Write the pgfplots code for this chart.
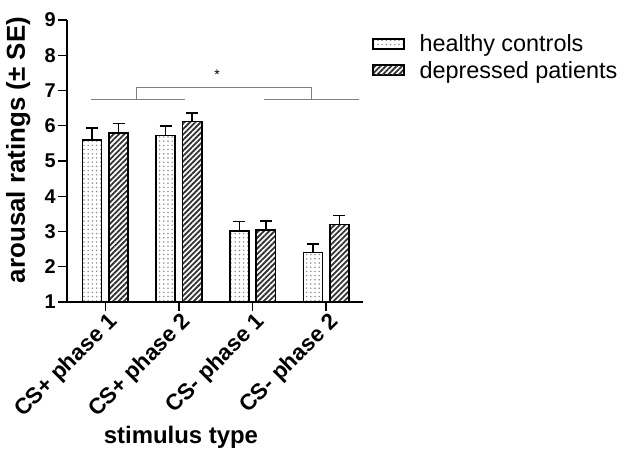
\documentclass[border=0pt]{standalone}
\usepackage{pgfplots}
\pgfplotsset{compat=1.18}
\usepackage{fontspec}
\setmainfont{Liberation Sans}
\usetikzlibrary{patterns.meta}
\begin{document}
\begin{tikzpicture}[x=1bp,y=1bp]
\path[use as bounding box] (0,0) rectangle (626,452);
\begin{axis}[
  at={(67bp,150bp)}, anchor=south west,
  scale only axis, width=296bp, height=282bp,
  xmin=-0.52, xmax=3.5, ymin=1, ymax=9,
  axis x line*=bottom, axis y line*=left,
  axis line style={line width=1.6bp, black},
  xtick={0,1,2,3},
  xticklabels={CS+ phase 1, CS+ phase 2, CS- phase 1, CS- phase 2},
  ytick={1,2,...,9},
  tick align=outside, major tick length=9bp,
  tick style={line width=1.4bp, black},
  /pgf/number format/assume math mode=true,
  yticklabel style={font=\fontsize{20}{20}\selectfont\bfseries, inner sep=2bp},
  xticklabel style={font=\fontsize{22.5}{22.5}\selectfont\bfseries, rotate=45, anchor=north east, inner sep=1bp, xshift=2bp},
  xlabel={stimulus type}, ylabel={arousal ratings (± SE)},
  label style={font=\fontsize{24}{24}\selectfont\bfseries},
  xlabel style={at={(axis description cs:0.385,-0.479)}, anchor=center},
  ylabel style={at={(axis description cs:-0.165,0.539)}, anchor=center, font=\fontsize{26}{26}\selectfont\bfseries},
  legend style={at={(1.02,0.963)}, anchor=north west, draw=none, fill=none,
    font=\fontsize{23.5}{23.5}\selectfont, row sep=4bp, cells={anchor=west},
    /tikz/every odd column/.append style={column sep=13bp}},
  legend image code/.code={\draw[#1, line width=1.4bp] (0bp,-5bp) rectangle (31bp,5bp);},
]
\addplot[ybar, bar width=0.26, bar shift=-0.18, draw=black, line width=1.6bp,
  preaction={fill=white}, pattern={Dots[distance=4.2bp, radius=0.85bp]}, pattern color=black!45]
coordinates {(0,5.6) (1,5.72) (2,3.02) (3,2.4)};
\addlegendentry{healthy controls}
\addplot[ybar, bar width=0.26, bar shift=0.18, draw=black, line width=1.6bp,
  preaction={fill=white}, pattern={Lines[angle=45, distance=3.8bp, line width=1.8bp]}, pattern color=black!80]
coordinates {(0,5.8) (1,6.12) (2,3.05) (3,3.2)};
\addlegendentry{depressed patients}
\addplot[draw=none, mark=none, forget plot,
  error bars/.cd, y dir=plus, y explicit,
  error bar style={line width=1.6bp, black},
  error mark options={rotate=90, mark size=6bp, line width=1.6bp, black}]
coordinates {(-0.18,5.6) +- (0,0.33) (0.82,5.72) +- (0,0.28) (1.82,3.02) +- (0,0.26) (2.82,2.4) +- (0,0.24)};
\addplot[draw=none, mark=none, forget plot,
  error bars/.cd, y dir=plus, y explicit,
  error bar style={line width=1.6bp, black},
  error mark options={rotate=90, mark size=6bp, line width=1.6bp, black}]
coordinates {(0.18,5.8) +- (0,0.26) (1.18,6.12) +- (0,0.24) (2.18,3.05) +- (0,0.24) (3.18,3.2) +- (0,0.25)};
\addplot[gray, line width=1bp, forget plot] coordinates {(-0.19,6.75) (1.085,6.75)};
\addplot[gray, line width=1bp, forget plot] coordinates {(0.43,6.75) (0.43,7.09) (2.8,7.09) (2.8,6.75)};
\addplot[gray, line width=1bp, forget plot] coordinates {(2.16,6.75) (3.45,6.75)};
\node[font=\fontsize{14}{14}\selectfont] at (axis cs:1.52,7.45) {*};
\end{axis}
\end{tikzpicture}
\end{document}
